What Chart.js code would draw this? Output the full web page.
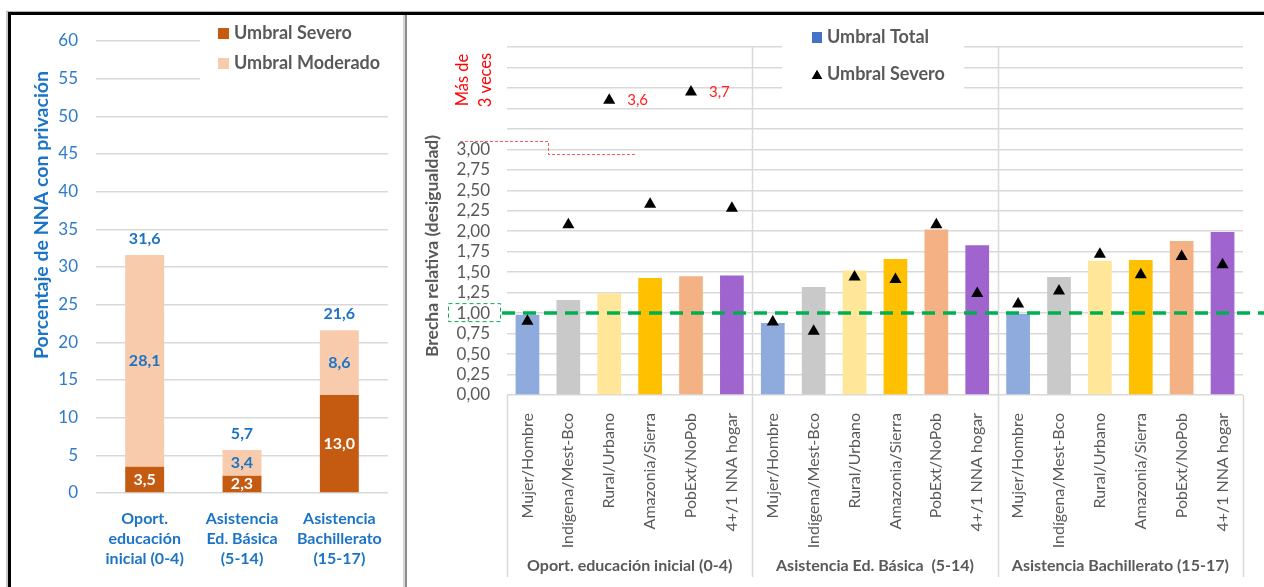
<!DOCTYPE html>
<html lang="es">
<head>
<meta charset="utf-8">
<title>Privación en educación y brechas relativas</title>
<script src="https://cdn.jsdelivr.net/npm/chart.js@4.4.1/dist/chart.umd.min.js"></script>
<style>
  html, body { margin: 0; padding: 0; background: #fff; }
  #lienzo { position: relative; width: 1264px; height: 587px; overflow: hidden; background: #fff; }
  #lienzo canvas { position: absolute; top: 0; }
  #chart-pct { left: 0; }
  #chart-brecha { left: 407px; }
  .marco { position: absolute; }
  .marco.top { left: 6px; top: 11px; width: 1258px; height: 1px; background: #b5b5b5; }
  .marco.top2 { left: 8px; top: 12px; width: 1256px; height: 3px; background: #000; }
  .marco.left { left: 6px; top: 12px; width: 2px; height: 575px; background: #c8c8c8; }
  .marco.left2 { left: 8px; top: 12px; width: 3px; height: 575px; background: #000; }
  .marco.sep { left: 403px; top: 15px; width: 2px; height: 572px; background: #d6d6d6; }
  .marco.sep2 { left: 405px; top: 15px; width: 2px; height: 572px; background: #8c8c8c; }
</style>
</head>
<body>
<div id="lienzo">
  <canvas id="chart-pct" width="405" height="587"></canvas>
  <canvas id="chart-brecha" width="857" height="587"></canvas>
  <div class="marco top"></div>
  <div class="marco top2"></div>
  <div class="marco left"></div>
  <div class="marco left2"></div>
  <div class="marco sep"></div>
  <div class="marco sep2"></div>
</div>
<script>
(function () {
    "use strict";

    // Porcentaje de NNA con privación, por nivel
    const niveles = [
        ["Oport.", "educación", "inicial (0-4)"],
        ["Asistencia", "Ed. Básica", "(5-14)"],
        ["Asistencia", "Bachillerato", "(15-17)"]
    ];
    const umbralSevero = [3.5, 2.3, 13.0];
    const umbralModerado = [28.1, 3.4, 8.6];
    const pctMax = 60;
    const pctStep = 5;

    // Brecha relativa por grupo
    const grupos = [
        "Oport. educación inicial (0-4)",
        "Asistencia Ed. Básica  (5-14)",
        "Asistencia Bachillerato (15-17)"
    ];
    const subgrupos = [
        "Mujer/Hombre",
        "Indígena/Mest-Bco",
        "Rural/Urbano",
        "Amazonia/Sierra",
        "PobExt/NoPob",
        "4+/1 NNA hogar"
    ];
    const brechaTotal = [
        0.98, 1.16, 1.24, 1.43, 1.45, 1.46,
        0.88, 1.32, 1.52, 1.66, 2.02, 1.83,
        0.99, 1.44, 1.64, 1.65, 1.88, 1.99
    ];
    const brechaSevera = [
        0.90, 2.08, 3.6, 2.33, 3.7, 2.28,
        0.89, 0.78, 1.44, 1.41, 2.08, 1.24,
        1.11, 1.27, 1.72, 1.47, 1.69, 1.59
    ];
    const brechaMax = 4.25;
    const brechaStep = 0.25;
    const brechaUltimaEtiqueta = 3;
    const brechaParidad = 1;

    const coloresSubgrupo = ["#8FAADC", "#C9C9C9", "#FFE699", "#FFC000", "#F4B183", "#A064CF"];
    const azul = "#1C74C6";
    const gris = "#595959";
    const rejilla = "#D9D9D9";
    const FUENTE = "Lato, 'Open Sans', sans-serif";

    Chart.defaults.font.family = FUENTE;
    Chart.defaults.animation = false;
    Chart.defaults.events = [];

    const fmt = (v, d) => v.toFixed(d).replace(".", ",");

    // ---------- Gráfico de barras apiladas (izquierda) ----------
    const etiquetasPct = {
        id: "etiquetasPct",
        afterDatasetsDraw(chart) {
            const ctx = chart.ctx;
            ctx.save();
            ctx.font = "bold 16px " + FUENTE;
            ctx.textAlign = "center";
            ctx.textBaseline = "middle";
            const sev = chart.getDatasetMeta(0).data;
            const mod = chart.getDatasetMeta(1).data;
            sev.forEach((el, i) => {
                ctx.fillStyle = "#fff";
                ctx.fillText(fmt(umbralSevero[i], 1), el.x, (el.y + el.base) / 2);
            });
            mod.forEach((el, i) => {
                ctx.fillStyle = azul;
                ctx.fillText(fmt(umbralModerado[i], 1), el.x, (el.y + el.base) / 2);
                ctx.fillText(fmt(umbralSevero[i] + umbralModerado[i], 1), el.x, el.y - 16);
            });
            ctx.restore();
        },
        afterDraw(chart) {
            const ctx = chart.ctx;
            ctx.save();
            // leyenda
            ctx.fillStyle = "#fff";
            ctx.fillRect(200, 18, 200, 66);
            const items = [["Umbral Severo", "#C55A11", 33], ["Umbral Moderado", "#F8CBAD", 63]];
            ctx.font = "bold 18px " + FUENTE;
            ctx.textBaseline = "middle";
            ctx.textAlign = "left";
            items.forEach(([txt, col, y]) => {
                ctx.fillStyle = col;
                ctx.fillRect(218, y - 5, 11, 11);
                ctx.fillStyle = gris;
                ctx.fillText(txt, 234, y);
            });
            // título eje Y
            ctx.translate(42, 215);
            ctx.rotate(-Math.PI / 2);
            ctx.textAlign = "center";
            ctx.font = "bold 19.5px " + FUENTE;
            ctx.fillStyle = azul;
            ctx.fillText("Porcentaje de NNA con privación", 0, 0);
            ctx.restore();
        }
    };

    new Chart(document.getElementById("chart-pct").getContext("2d"), {
        type: "bar",
        data: {
            labels: niveles,
            datasets: [
                {
                    label: "Umbral Severo",
                    data: umbralSevero,
                    backgroundColor: "#C55A11",
                    barPercentage: 0.4,
                    categoryPercentage: 1
                },
                {
                    label: "Umbral Moderado",
                    data: umbralModerado,
                    backgroundColor: "#F8CBAD",
                    barPercentage: 0.4,
                    categoryPercentage: 1
                }
            ]
        },
        options: {
            responsive: false,
            devicePixelRatio: 1,
            layout: { padding: { top: 41, right: 17, bottom: 0, left: 0 } },
            plugins: { legend: { display: false }, tooltip: { enabled: false } },
            scales: {
                x: {
                    stacked: true,
                    grid: { display: false },
                    border: { display: false },
                    ticks: {
                        color: azul,
                        font: { size: 16, weight: "bold", lineHeight: 1.25 },
                        padding: 8,
                        maxRotation: 0,
                        autoSkip: false
                    },
                    afterFit(scale) { scale.height = 94; }
                },
                y: {
                    stacked: true,
                    min: 0,
                    max: pctMax,
                    ticks: {
                        stepSize: pctStep,
                        autoSkip: false,
                        color: "#2E7BC8",
                        font: { size: 17 },
                        padding: 18
                    },
                    grid: { color: rejilla, lineWidth: 1.5, drawTicks: false },
                    border: { display: false },
                    afterFit(scale) { scale.width = 96; }
                }
            }
        },
        plugins: [etiquetasPct]
    });

    // ---------- Gráfico de brechas (derecha) ----------
    const etiquetasX = [];
    grupos.forEach(g => subgrupos.forEach(s => etiquetasX.push(g + " | " + s)));

    const limite = (x, i) => (x.getPixelForValue(i) + x.getPixelForValue(i + 1)) / 2;

    const anotacionesBrecha = {
        id: "anotacionesBrecha",
        beforeDatasetsDraw(chart) {
            const { ctx, chartArea: a, scales: { x } } = chart;
            ctx.save();
            ctx.strokeStyle = rejilla;
            ctx.lineWidth = 1.5;
            const n = subgrupos.length;
            for (let g = 0; g <= grupos.length; g++) {
                const i = g * n - 1;
                let px;
                if (g === 0) px = a.left;
                else if (g === grupos.length) px = a.right;
                else px = limite(x, i);
                const top = (g === 0 || g === grupos.length) ? a.bottom : a.top;
                ctx.beginPath();
                ctx.moveTo(Math.round(px) + 0.5, top);
                ctx.lineTo(Math.round(px) + 0.5, a.bottom + 182);
                ctx.stroke();
            }
            // nombres de grupo bajo el eje
            ctx.font = "bold 16px " + FUENTE;
            ctx.fillStyle = gris;
            ctx.textAlign = "center";
            ctx.textBaseline = "middle";
            grupos.forEach((g, k) => {
                const x0 = k === 0 ? a.left : limite(x, k * n - 1);
                const x1 = k === grupos.length - 1 ? a.right : limite(x, (k + 1) * n - 1);
                ctx.fillText(g, (x0 + x1) / 2, a.bottom + 171);
            });
            ctx.restore();
        },
        beforeDatasetDraw(chart, args) {
            if (args.index !== 1) return;
            const { ctx, chartArea: a, scales: { y } } = chart;
            const py = y.getPixelForValue(brechaParidad);
            ctx.save();
            ctx.strokeStyle = "#00B050";
            ctx.lineWidth = 3.5;
            ctx.setLineDash([13, 8]);
            ctx.beginPath();
            ctx.moveTo(a.left - 5, py);
            ctx.lineTo(chart.width, py);
            ctx.stroke();
            // recuadro en la etiqueta 1,00
            ctx.lineWidth = 1;
            ctx.setLineDash([4, 3]);
            ctx.strokeRect(a.left - 58.5, py - 9.5, 52, 18);
            ctx.restore();
        },
        afterDatasetsDraw(chart) {
            const { ctx, chartArea: a, scales: { x, y } } = chart;
            ctx.save();
            // valores fuera de escala
            ctx.font = "15px " + FUENTE;
            ctx.fillStyle = "#FF2020";
            ctx.textAlign = "left";
            ctx.textBaseline = "middle";
            brechaSevera.forEach((v, i) => {
                if (v > brechaUltimaEtiqueta) {
                    ctx.fillText(fmt(v, 1), x.getPixelForValue(i) + 18, y.getPixelForValue(v));
                }
            });
            // corte del eje
            const yA = y.getPixelForValue(3.1), yB = y.getPixelForValue(2.94);
            const xm = limite(x, 0);
            ctx.strokeStyle = "#FF5A5A";
            ctx.lineWidth = 1;
            ctx.setLineDash([3, 2]);
            ctx.beginPath();
            ctx.moveTo(a.left - 47, Math.round(yA) + 0.5);
            ctx.lineTo(Math.round(xm) + 0.5, Math.round(yA) + 0.5);
            ctx.lineTo(Math.round(xm) + 0.5, Math.round(yB) + 0.5);
            ctx.lineTo(x.getPixelForValue(2) + 26, Math.round(yB) + 0.5);
            ctx.stroke();
            ctx.setLineDash([]);
            // nota "Más de 3 veces"
            ctx.save();
            ctx.translate(56, 80);
            ctx.rotate(-Math.PI / 2);
            ctx.textAlign = "center";
            ctx.font = "16.5px " + FUENTE;
            ctx.fillStyle = "#FF0000";
            ctx.fillText("Más de", 0, 0);
            ctx.fillText("3 veces", 0, 23);
            ctx.restore();
            // leyenda
            ctx.fillStyle = "#fff";
            ctx.fillRect(375, 20, 182, 78);
            ctx.fillStyle = "#4472C4";
            ctx.fillRect(405, 32, 10, 11);
            ctx.fillStyle = "#000";
            Chart.helpers.drawPoint(ctx, { pointStyle: "triangle", radius: 6, borderWidth: 0 }, 410, 76);
            ctx.fill();
            ctx.font = "bold 18px " + FUENTE;
            ctx.fillStyle = gris;
            ctx.textAlign = "left";
            ctx.fillText("Umbral Total", 420, 37);
            ctx.fillText("Umbral Severo", 420, 74);
            // título eje Y
            ctx.translate(25, 246);
            ctx.rotate(-Math.PI / 2);
            ctx.textAlign = "center";
            ctx.font = "bold 17.5px " + FUENTE;
            ctx.fillStyle = gris;
            ctx.fillText("Brecha relativa (desigualdad)", 0, 0);
            ctx.restore();
        }
    };

    new Chart(document.getElementById("chart-brecha").getContext("2d"), {
        type: "bar",
        data: {
            labels: etiquetasX,
            datasets: [
                {
                    type: "bar",
                    label: "Umbral Total",
                    data: brechaTotal,
                    backgroundColor: brechaTotal.map((v, i) => coloresSubgrupo[i % subgrupos.length]),
                    barPercentage: 0.58,
                    categoryPercentage: 1,
                    order: 1
                },
                {
                    type: "line",
                    label: "Umbral Severo",
                    data: brechaSevera,
                    showLine: false,
                    pointStyle: "triangle",
                    pointRadius: 7,
                    pointBackgroundColor: "#000",
                    pointBorderColor: "#000",
                    pointBorderWidth: 0,
                    order: 0
                }
            ]
        },
        options: {
            responsive: false,
            devicePixelRatio: 1,
            layout: { padding: { top: 47, right: 21, bottom: 0, left: 0 } },
            plugins: { legend: { display: false }, tooltip: { enabled: false } },
            scales: {
                x: {
                    grid: { display: false },
                    border: { display: false },
                    ticks: {
                        color: gris,
                        font: { size: 16 },
                        padding: 10,
                        minRotation: 90,
                        maxRotation: 90,
                        autoSkip: false,
                        callback: (v, i) => subgrupos[i % subgrupos.length]
                    },
                    afterFit(scale) { scale.height = 192; }
                },
                y: {
                    min: 0,
                    max: brechaMax,
                    ticks: {
                        stepSize: brechaStep,
                        autoSkip: false,
                        color: gris,
                        font: { size: 17 },
                        padding: 17,
                        callback: v => v <= brechaUltimaEtiqueta ? fmt(v, 2) : ""
                    },
                    grid: { color: rejilla, lineWidth: 1.5, drawTicks: false },
                    border: { display: false },
                    afterFit(scale) { scale.width = 100; }
                }
            }
        },
        plugins: [anotacionesBrecha]
    });
})();
</script>
</body>
</html>
